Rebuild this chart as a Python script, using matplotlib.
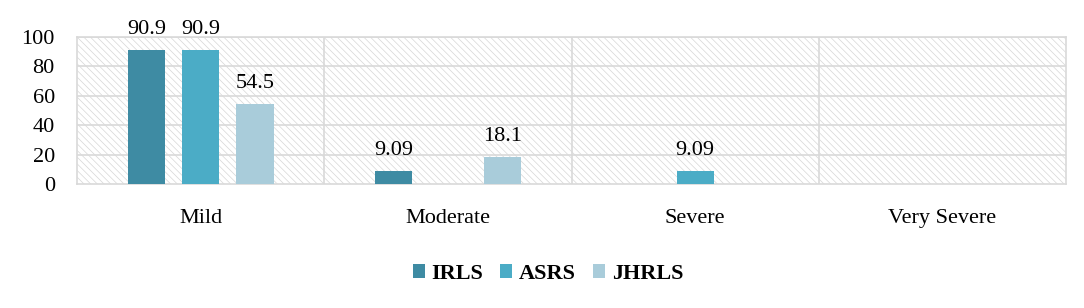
import matplotlib
matplotlib.use("Agg")
import matplotlib.pyplot as plt
import numpy as np
from matplotlib.patches import Rectangle

categories = ["Mild", "Moderate", "Severe", "Very Severe"]
series = ["IRLS", "ASRS", "JHRLS"]
irls = [90.9, 9.09, 0, 0]
asrs = [90.9, 0, 9.09, 0]
jhrls = [54.5, 18.1, 0, 0]
values = [irls, asrs, jhrls]
colors = ["#3E8BA3", "#4BACC6", "#A9CCDA"]
yticks = [0, 20, 40, 60, 80, 100]

plt.rcParams['font.family'] = ['Liberation Serif', 'DejaVu Serif']
plt.rcParams['hatch.linewidth'] = 0.5
plt.rcParams['hatch.color'] = '#D6D6D6'

fig = plt.figure(figsize=(10.84, 3.08), dpi=100)
ax = fig.add_axes([77/1084, 1-184/308, (1066-77)/1084, (184-37)/308])

ax.set_xlim(0, len(categories))
ax.set_ylim(0, 100)

bg = Rectangle((0, 0), 1, 1, transform=ax.transAxes, facecolor='white',
               edgecolor='#D6D6D6', hatch='\\' * 5, linewidth=0, zorder=0)
ax.add_patch(bg)

x = np.arange(len(categories)) + 0.5
offsets = [-0.219, 0, 0.22]
width = 0.15
for vals, off, c, name in zip(values, offsets, colors, series):
    bars = ax.bar(x + off, vals, width=width, color=c, label=name, zorder=3)
    for b, v in zip(bars, vals):
        if v > 0:
            ax.annotate(f"{v:g}", (b.get_x() + b.get_width() / 2, v),
                        xytext=(0, 11.5), textcoords='offset points',
                        ha='center', va='baseline', fontsize=16, zorder=4,
                        annotation_clip=False)

ax.set_yticks(yticks)
ax.set_xticks(x)
ax.set_xticklabels(categories, fontsize=16)
ax.tick_params(axis='y', labelsize=16, length=0, pad=16)
ax.tick_params(axis='x', length=0, pad=18)
for yv in yticks[1:]:
    ax.axhline(yv, color='#D9D9D9', linewidth=1.2, zorder=1)
for xv in range(1, len(categories)):
    ax.axvline(xv, color='#D9D9D9', linewidth=1.2, zorder=1)
for s in ax.spines.values():
    s.set_color('#D9D9D9')
    s.set_linewidth(1.2)

leg = fig.legend(loc='center', bbox_to_anchor=(548/1084, 1-274/308), ncol=3,
                 frameon=False, prop={'weight': 'bold', 'size': 16},
                 handlelength=0.55, handleheight=0.55, handletextpad=0.3,
                 columnspacing=0.75)

fig.savefig("out.png", dpi=100)
